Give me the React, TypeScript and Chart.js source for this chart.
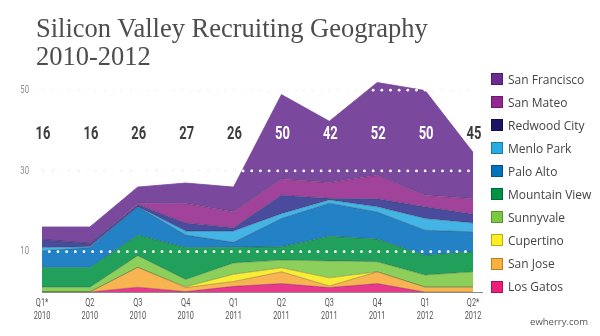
import React, { useEffect, useRef } from 'react';
import { Chart, registerables } from 'chart.js';

Chart.register(...registerables);

// ---- data ----
const quarters: string[][] = [
  ['Q1*', '2010'], ['Q2', '2010'], ['Q3', '2010'], ['Q4', '2010'],
  ['Q1', '2011'], ['Q2', '2011'], ['Q3', '2011'], ['Q4', '2011'],
  ['Q1', '2012'], ['Q2*', '2012'],
];
const totals = [16, 16, 26, 27, 26, 50, 42, 52, 50, 45];
const gridValues = [10, 30, 50];
const gridLabels = ['10', '30', '50'];

// stacked bottom -> top
const losGatos = [0, 0, 1.2, 0.1, 1.4, 2.1, 1.1, 2.1, 0, 0];
const sanJose = [0, 0, 4.9, 1.0, 1.2, 2.9, 0.4, 2.9, 1.2, 1.2];
const cupertino = [0, 0, 0, 0.2, 1.8, 1.0, 2.0, 0, 0, 0];
const sunnyvale = [1.2, 1.2, 2.9, 1.8, 2.8, 1.9, 4.2, 2.5, 3.0, 3.8];
const mountainView = [4.9, 4.9, 5.1, 7.9, 3.9, 3.3, 6.1, 5.6, 4.9, 5.0];
const paloAlto = [4.1, 4.9, 7.0, 3.1, 1.2, 7.0, 8.2, 6.7, 6.2, 4.9];
const menloPark = [0.8, 0.2, 0, 1.0, 2.8, 1.2, 0.8, 1.3, 2.9, 2.2];
const redwoodCity = [2.0, 0.8, 0.6, 2.0, 0.8, 4.6, 0.4, 2.0, 2.9, 2.2];
const sanMateo = [0, 0, 0.3, 4.8, 4.0, 4.0, 3.9, 5.8, 2.9, 3.8];
const sanFrancisco = [3.1, 4.1, 4.0, 5.1, 6.1, 20.9, 15.2, 23.0, 25.9, 11.5];

const seriesNames = [
  'Los Gatos', 'San Jose', 'Cupertino', 'Sunnyvale', 'Mountain View',
  'Palo Alto', 'Menlo Park', 'Redwood City', 'San Mateo', 'San Francisco',
];
const seriesData = [
  losGatos, sanJose, cupertino, sunnyvale, mountainView,
  paloAlto, menloPark, redwoodCity, sanMateo, sanFrancisco,
];
const fillColors = [
  '#e8388a', '#f9b452', '#f8ec35', '#8ccf5a', '#21a05b',
  '#2381c5', '#44b4e4', '#4b4b9d', '#a1429b', '#7a489d',
];
const legendColors = [
  '#ed1e79', '#fbb03b', '#fcee21', '#7ac943', '#009245',
  '#0071bc', '#29abe2', '#1b1464', '#92278f', '#6a2c91',
];

const SANS = "Roboto, 'Liberation Sans', sans-serif";

function narrowText(ctx: CanvasRenderingContext2D, text: string, x: number, y: number, squeeze: number) {
  ctx.save();
  ctx.translate(x, y);
  ctx.scale(squeeze, 1);
  ctx.fillText(text, 0, 0);
  ctx.restore();
}

const overlayPlugin = {
  id: 'overlay',
  beforeDatasetsDraw(chart: any) {
    const { ctx, chartArea, scales } = chart;
    const y = scales.y;
    ctx.save();
    ctx.fillStyle = '#6a6a6a';
    gridValues.forEach((v) => {
      if (v === 10) return;
      const py = y.getPixelForValue(v);
      for (let x = chartArea.left - 7; x <= chartArea.right - 1; x += 8.67) {
        ctx.beginPath();
        ctx.arc(x, py, 1.1, 0, Math.PI * 2);
        ctx.fill();
      }
    });
    ctx.restore();
  },
  afterDatasetsDraw(chart: any) {
    const { ctx, chartArea, scales } = chart;
    const y = scales.y;
    const xs = scales.x;
    ctx.save();
    // white dots over fills
    ctx.fillStyle = '#ffffff';
    gridValues.forEach((v) => {
      const py = y.getPixelForValue(v);
      const start = v === 10 ? chartArea.left + 7.3 : chartArea.left - 7;
      for (let x = start; x <= chartArea.right - 1; x += 8.67) {
        ctx.beginPath();
        ctx.arc(x, py, 1.4, 0, Math.PI * 2);
        ctx.fill();
      }
    });
    // baseline
    ctx.strokeStyle = '#8a8a8a';
    ctx.lineWidth = 1;
    ctx.beginPath();
    ctx.moveTo(chartArea.left, Math.round(chartArea.bottom) + 0.5);
    ctx.lineTo(chartArea.right + 10, Math.round(chartArea.bottom) + 0.5);
    ctx.stroke();
    // y labels
    ctx.fillStyle = '#8c8c8c';
    ctx.font = `11px ${SANS}`;
    ctx.textAlign = 'right';
    ctx.textBaseline = 'middle';
    gridValues.forEach((v, i) => {
      narrowText(ctx, gridLabels[i], chartArea.left - 13, y.getPixelForValue(v), 0.7);
    });
    // x labels
    ctx.fillStyle = '#555555';
    ctx.font = `11.5px ${SANS}`;
    ctx.textAlign = 'center';
    ctx.textBaseline = 'alphabetic';
    quarters.forEach((lines, i) => {
      const px = xs.getPixelForValue(i);
      lines.forEach((t, j) => {
        narrowText(ctx, t, px, chartArea.bottom + 13.5 + j * 13, 0.64);
      });
    });
    // totals
    ctx.font = `bold 18px ${SANS}`;
    ctx.textAlign = 'center';
    ctx.textBaseline = 'middle';
    const labelY = chartArea.top + 64;
    totals.forEach((t, i) => {
      const sum = seriesData.reduce((a, s) => a + s[i], 0);
      const topPx = y.getPixelForValue(sum);
      ctx.fillStyle = topPx < labelY - 6 ? '#ffffff' : '#3d3d3d';
      narrowText(ctx, String(t), xs.getPixelForValue(i) + 1, labelY, 0.72);
    });
    ctx.restore();
  },
};

export default function App() {
  const canvasRef = useRef<HTMLCanvasElement>(null);

  useEffect(() => {
    if (!canvasRef.current) return;
    const chart = new Chart(canvasRef.current, {
      type: 'line',
      data: {
        labels: quarters.map((q) => q.join(' ')),
        datasets: seriesData.map((d, i) => ({
          label: seriesNames[i],
          data: d,
          backgroundColor: fillColors[i],
          borderColor: i === seriesData.length - 1 ? fillColors[i] : 'rgba(30,30,40,0.35)',
          borderWidth: 0.8,
          fill: i === 0 ? 'origin' : '-1',
          pointRadius: 0,
          tension: 0,
        })),
      },
      options: {
        animation: false,
        responsive: false,
        maintainAspectRatio: false,
        layout: { padding: { left: 42, right: 127, top: 70, bottom: 44 } },
        plugins: { legend: { display: false }, tooltip: { enabled: false }, title: { display: false } },
        scales: {
          x: {
            type: 'category',
            display: false,
            offset: false,
          },
          y: {
            display: false,
            stacked: true,
            min: 0,
            max: 55,
          },
        },
      },
      plugins: [overlayPlugin],
    });
    return () => chart.destroy();
  }, []);

  const legendOrder = seriesNames.map((_, i) => seriesNames.length - 1 - i);

  return (
    <div style={{ position: 'fixed', left: 0, top: 0, width: 600, height: 336, background: '#ffffff', overflow: 'hidden' }}>
      <canvas ref={canvasRef} width={600} height={336} style={{ position: 'absolute', left: 0, top: 0, width: 600, height: 336 }} />
      <div style={{ position: 'absolute', left: 36, top: 14, fontFamily: "'Liberation Serif', 'DejaVu Serif', serif", fontSize: 26.5, lineHeight: '28px', color: '#4d4d4d', whiteSpace: 'nowrap' }}>
        Silicon Valley Recruiting Geography<br />2010-2012
      </div>
      {legendOrder.map((idx, k) => (
        <div key={idx} style={{ position: 'absolute', left: 491, top: 73 + k * 23.07, height: 12, display: 'flex', alignItems: 'center', whiteSpace: 'nowrap' }}>
          <span style={{ display: 'inline-block', width: 10, height: 10, background: legendColors[idx], border: '1px solid rgba(0,0,0,0.28)' }} />
          <span style={{ marginLeft: 5, fontFamily: "'Open Sans', sans-serif", fontSize: 12, color: '#444444' }}>{seriesNames[idx]}</span>
        </div>
      ))}
      <div style={{ position: 'absolute', right: 12, top: 315, fontFamily: "'Open Sans', sans-serif", fontSize: 9.5, color: '#555555' }}>
        ewherry.com
      </div>
    </div>
  );
}
